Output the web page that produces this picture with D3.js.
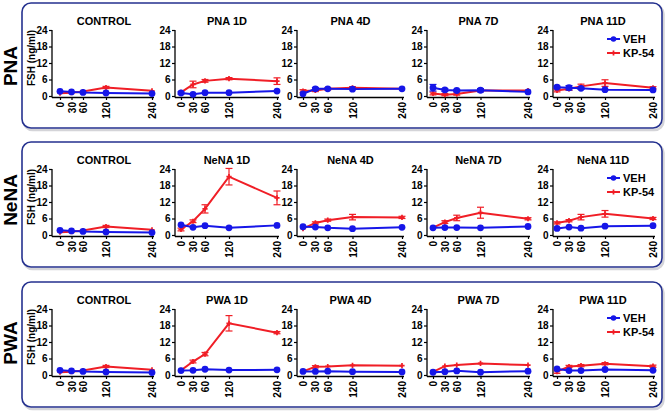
<!DOCTYPE html>
<html>
<head>
<meta charset="utf-8">
<script src="https://cdn.jsdelivr.net/npm/d3@7"></script>
<style>
  html, body { margin: 0; padding: 0; background: #ffffff; }
  svg text { font-family: "Liberation Sans", Arial, Helvetica, sans-serif; font-weight: bold; }
</style>
</head>
<body>
<script>
// ---------- DATA ----------
const times = [0, 30, 60, 120, 240];
const timeLabels = ["0", "30", "60", "120", "240"];
const yTicks = [0, 6, 12, 18, 24];
const groups = ["PNA", "NeNA", "PWA"];
const seriesNames = ["VEH", "KP-54"];

const pnaTitles = ["CONTROL", "PNA 1D", "PNA 4D", "PNA 7D", "PNA 11D"];
const nenaTitles = ["CONTROL", "NeNA 1D", "NeNA 4D", "NeNA 7D", "NeNA 11D"];
const pwaTitles = ["CONTROL", "PWA 1D", "PWA 4D", "PWA 7D", "PWA 11D"];

// control (same in every row)
const controlVeh = [1.7, 1.5, 1.3, 1.1, 0.9];
const controlVehErr = [0.3, 0.3, 0.3, 0.2, 0.2];
const controlKp = [1.0, 1.2, 1.6, 3.1, 1.9];
const controlKpErr = [0.2, 0.2, 0.3, 0.4, 0.3];

// PNA
const pna1dVeh = [1.1, 0.6, 1.2, 1.2, 1.8];
const pna1dVehErr = [0.4, 0.2, 0.2, 0.2, 0.3];
const pna1dKp = [1.3, 4.2, 5.5, 6.3, 5.4];
const pna1dKpErr = [0.3, 1.2, 0.5, 0.4, 1.2];
const pna4dVeh = [0.8, 2.6, 2.6, 2.5, 2.6];
const pna4dVehErr = [0.3, 0.5, 0.3, 0.3, 0.3];
const pna4dKp = [1.8, 2.0, 2.6, 3.0, 2.6];
const pna4dKpErr = [0.5, 0.4, 0.4, 0.4, 0.3];
const pna7dVeh = [3.0, 2.2, 2.0, 2.1, 1.5];
const pna7dVehErr = [1.2, 0.5, 0.4, 0.6, 0.3];
const pna7dKp = [0.9, 0.5, 0.7, 2.0, 2.0];
const pna7dKpErr = [0.5, 0.4, 0.4, 0.4, 0.3];
const pna11dVeh = [3.2, 3.0, 2.8, 2.3, 2.2];
const pna11dVehErr = [0.4, 0.8, 0.4, 0.3, 0.3];
const pna11dKp = [2.0, 2.6, 3.5, 4.7, 3.0];
const pna11dKpErr = [0.5, 0.5, 0.8, 1.2, 0.4];

// NeNA
const nena1dVeh = [3.7, 2.8, 3.4, 2.6, 3.5];
const nena1dVehErr = [0.3, 0.3, 0.3, 0.2, 0.3];
const nena1dKp = [2.0, 5.0, 9.5, 21.2, 13.5];
const nena1dKpErr = [0.5, 0.5, 1.5, 3.0, 2.5];
const nena4dVeh = [3.0, 2.9, 2.6, 2.3, 2.8];
const nena4dVehErr = [0.3, 0.3, 0.2, 0.2, 0.3];
const nena4dKp = [2.3, 4.4, 5.4, 6.5, 6.4];
const nena4dKpErr = [0.3, 0.4, 0.4, 1.0, 0.4];
const nena7dVeh = [2.6, 2.7, 2.7, 2.6, 3.1];
const nena7dVehErr = [0.3, 0.3, 0.2, 0.2, 0.3];
const nena7dKp = [2.7, 4.7, 6.2, 8.1, 5.9];
const nena7dKpErr = [0.3, 0.5, 1.0, 2.0, 0.4];
const nena11dVeh = [2.4, 2.9, 2.5, 3.2, 3.4];
const nena11dVehErr = [0.3, 0.3, 0.2, 0.3, 0.3];
const nena11dKp = [4.4, 5.2, 6.5, 7.7, 6.0];
const nena11dKpErr = [0.4, 0.4, 1.0, 1.2, 0.4];

// PWA
const pwa1dVeh = [1.6, 1.7, 2.1, 1.8, 1.9];
const pwa1dVehErr = [0.3, 0.2, 0.3, 0.2, 0.2];
const pwa1dKp = [1.7, 4.9, 7.6, 18.8, 15.4];
const pwa1dKpErr = [0.3, 0.5, 0.6, 2.8, 0.4];
const pwa4dVeh = [1.3, 1.3, 1.4, 1.2, 1.1];
const pwa4dVehErr = [0.2, 0.2, 0.2, 0.2, 0.2];
const pwa4dKp = [1.3, 3.0, 3.1, 3.5, 3.4];
const pwa4dKpErr = [0.2, 0.4, 0.3, 0.3, 0.3];
const pwa7dVeh = [1.0, 1.2, 1.5, 1.0, 1.4];
const pwa7dVehErr = [0.2, 0.2, 0.2, 0.2, 0.2];
const pwa7dKp = [1.1, 3.2, 3.6, 4.2, 3.6];
const pwa7dKpErr = [0.2, 0.3, 0.3, 0.3, 0.3];
const pwa11dVeh = [2.2, 1.6, 1.6, 2.0, 1.7];
const pwa11dVehErr = [0.3, 0.3, 0.3, 0.2, 0.2];
const pwa11dKp = [1.2, 3.1, 3.4, 4.1, 3.2];
const pwa11dKpErr = [0.6, 0.4, 0.4, 0.4, 0.4];

// ---------- ASSEMBLY ----------
const rows = [
  { label: groups[0], titles: pnaTitles, panels: [
    [controlVeh, controlVehErr, controlKp, controlKpErr],
    [pna1dVeh, pna1dVehErr, pna1dKp, pna1dKpErr],
    [pna4dVeh, pna4dVehErr, pna4dKp, pna4dKpErr],
    [pna7dVeh, pna7dVehErr, pna7dKp, pna7dKpErr],
    [pna11dVeh, pna11dVehErr, pna11dKp, pna11dKpErr]] },
  { label: groups[1], titles: nenaTitles, panels: [
    [controlVeh, controlVehErr, controlKp, controlKpErr],
    [nena1dVeh, nena1dVehErr, nena1dKp, nena1dKpErr],
    [nena4dVeh, nena4dVehErr, nena4dKp, nena4dKpErr],
    [nena7dVeh, nena7dVehErr, nena7dKp, nena7dKpErr],
    [nena11dVeh, nena11dVehErr, nena11dKp, nena11dKpErr]] },
  { label: groups[2], titles: pwaTitles, panels: [
    [controlVeh, controlVehErr, controlKp, controlKpErr],
    [pwa1dVeh, pwa1dVehErr, pwa1dKp, pwa1dKpErr],
    [pwa4dVeh, pwa4dVehErr, pwa4dKp, pwa4dKpErr],
    [pwa7dVeh, pwa7dVehErr, pwa7dKp, pwa7dKpErr],
    [pwa11dVeh, pwa11dVehErr, pwa11dKp, pwa11dKpErr]] }
];

// ---------- LAYOUT ----------
const W = 667, H = 414;
const boxTops = [3, 142, 282];
const rowLabelY = [66, 200, 343];
const boxX = 22, boxW = 640, boxH = 125;
const axisX = [52, 175, 297, 427, 553];
const colRanges = [[60, 152], [181, 277], [303, 402], [433, 528], [557, 653]];
const BLUE = "#1616e8", RED = "#f01e26", FRAME = "#25318f";

const svg = d3.select("body").append("svg").attr("width", W).attr("height", H);
svg.append("rect").attr("width", W).attr("height", H).attr("fill", "#fff");

const crossSym = d3.symbol().type(d3.symbolCross).size(15);

rows.forEach((row, r) => {
  const T = boxTops[r];
  // shadow + frame
  svg.append("rect").attr("x", boxX + 1.5).attr("y", T + 2).attr("width", boxW).attr("height", boxH)
    .attr("rx", 9).attr("fill", "none").attr("stroke", "#d4d4d8").attr("stroke-width", 2.5);
  svg.append("rect").attr("x", boxX).attr("y", T).attr("width", boxW).attr("height", boxH)
    .attr("rx", 9).attr("fill", "#fff").attr("stroke", FRAME).attr("stroke-width", 1.6);

  // row label
  svg.append("text").attr("transform", `translate(17,${rowLabelY[r]}) rotate(-90)`)
    .attr("text-anchor", "middle").attr("font-size", 19).attr("fill", "#000").text(row.label);

  row.panels.forEach((p, c) => {
    const [veh, vehErr, kp, kpErr] = p;
    const x = d3.scaleLinear().domain([0, 240]).range(colRanges[c]);
    const y = d3.scaleLinear().domain([0, 24]).range([T + 93, T + 27]);
    const g = svg.append("g");
    const y0 = y(0) + 1.5;

    // title
    g.append("text").attr("x", (colRanges[c][0] + colRanges[c][1]) / 2 - 2).attr("y", T + 22)
      .attr("text-anchor", "middle").attr("font-size", 11).text(row.titles[c]);

    // y axis
    const ya = g.append("g").attr("transform", `translate(${axisX[c]},0)`)
      .call(d3.axisLeft(y).tickValues(yTicks).tickSize(3).tickSizeOuter(0).tickPadding(1.5));
    ya.select(".domain").remove();
    ya.selectAll(".tick line").attr("stroke", "#000").attr("stroke-width", 1.2);
    ya.selectAll("text").attr("font-size", 10).attr("font-family", null).attr("fill", "#000");
    g.append("line").attr("x1", axisX[c]).attr("x2", axisX[c]).attr("y1", y(24)).attr("y2", y0)
      .attr("stroke", "#000").attr("stroke-width", 1.3);

    // x axis
    const xa = g.append("g").attr("transform", `translate(0,${y0})`)
      .call(d3.axisBottom(x).tickValues(times).tickFormat((d, i) => timeLabels[i]).tickSize(2.5).tickSizeOuter(0));
    xa.select(".domain").remove();
    xa.selectAll(".tick line").attr("stroke", "#000").attr("stroke-width", 1.2);
    xa.selectAll("text").attr("font-size", 10).attr("font-family", null).attr("fill", "#000")
      .attr("transform", "rotate(-90)").attr("text-anchor", "end")
      .attr("x", -4.5).attr("y", 0).attr("dy", "0.36em");
    g.append("line").attr("x1", axisX[c]).attr("x2", colRanges[c][1] + 2).attr("y1", y0).attr("y2", y0)
      .attr("stroke", "#000").attr("stroke-width", 1.3);

    if (c === 0) {
      g.append("text").attr("transform", `translate(35,${T + 55}) rotate(-90)`)
        .attr("text-anchor", "middle").attr("font-size", 10).text("FSH (ng/ml)");
    }

    const line = d3.line().x((d, i) => x(times[i])).y(d => y(d));
    const drawSeries = (vals, errs, color, isVeh) => {
      const s = g.append("g");
      s.append("path").attr("d", line(vals)).attr("fill", "none").attr("stroke", color).attr("stroke-width", 2);
      vals.forEach((v, i) => {
        const cx = x(times[i]);
        const e = errs[i];
        if (e > 0.35) {
          s.append("line").attr("x1", cx).attr("x2", cx).attr("y1", y(v - e)).attr("y2", y(v + e))
            .attr("stroke", color).attr("stroke-width", 1.2);
          [v - e, v + e].forEach(ev => s.append("line").attr("x1", cx - 3.5).attr("x2", cx + 3.5)
            .attr("y1", y(ev)).attr("y2", y(ev)).attr("stroke", color).attr("stroke-width", 1.2));
        }
        if (isVeh) {
          s.append("circle").attr("cx", cx).attr("cy", y(v)).attr("r", 3.4).attr("fill", color);
        } else {
          s.append("path").attr("d", crossSym()).attr("transform", `translate(${cx},${y(v)})`).attr("fill", color);
        }
      });
    };
    drawSeries(kp, kpErr, RED, false);
    drawSeries(veh, vehErr, BLUE, true);

    // legend
    if (c === 4) {
      const lg = g.append("g");
      [[seriesNames[0], BLUE, T + 36, true], [seriesNames[1], RED, T + 50, false]].forEach(([name, col, ly, isVeh]) => {
        lg.append("line").attr("x1", 607).attr("x2", 620).attr("y1", ly).attr("y2", ly)
          .attr("stroke", col).attr("stroke-width", 2);
        if (isVeh) lg.append("circle").attr("cx", 613.5).attr("cy", ly).attr("r", 2.8).attr("fill", col);
        else lg.append("path").attr("d", crossSym()).attr("transform", `translate(613.5,${ly})`).attr("fill", col);
        lg.append("text").attr("x", 623).attr("y", ly + 4).attr("font-size", 11).text(name);
      });
    }
  });
});
</script>
</body>
</html>
